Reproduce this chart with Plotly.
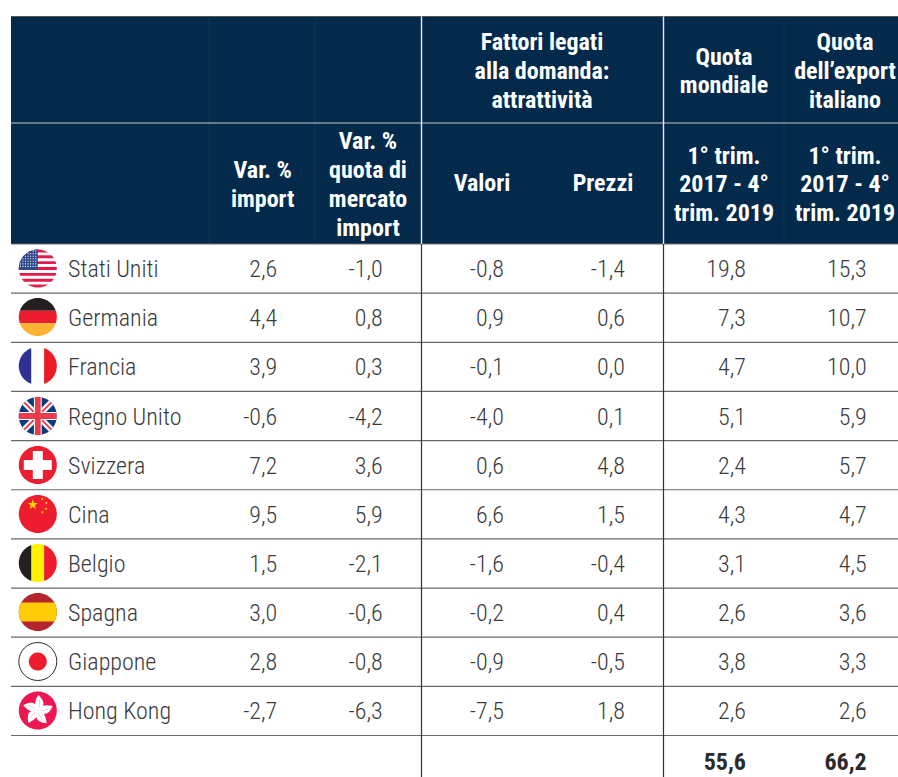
import math
import plotly.graph_objects as go

# ---------- data ----------
countries = ["Stati Uniti", "Germania", "Francia", "Regno Unito", "Svizzera",
             "Cina", "Belgio", "Spagna", "Giappone", "Hong Kong"]
var_import = [2.6, 4.4, 3.9, -0.6, 7.2, 9.5, 1.5, 3.0, 2.8, -2.7]
var_quota = [-1.0, 0.8, 0.3, -4.2, 3.6, 5.9, -2.1, -0.6, -0.8, -6.3]
valori = [-0.8, 0.9, -0.1, -4.0, 0.6, 6.6, -1.6, -0.2, -0.9, -7.5]
prezzi = [-1.4, 0.6, 0.0, 0.1, 4.8, 1.5, -0.4, 0.4, -0.5, 1.8]
quota_mondiale = [19.8, 7.3, 4.7, 5.1, 2.4, 4.3, 3.1, 2.6, 3.8, 2.6]
quota_export = [15.3, 10.7, 10.0, 5.9, 5.7, 4.7, 4.5, 3.6, 3.3, 2.6]
total_mondiale = 55.6
total_export = 66.2

W, H = 898, 777
NAVY = "#042A4B"
TXT = "#3A3A3C"
FONT = "'Roboto Condensed','Liberation Sans Narrow',Roboto,sans-serif"

LEFT, TOP, MID, HEAD_BOT = 11, 16.5, 123, 244
ROW_H = 49.15
DIV = [421.5, 663.5]
FAINT = [209, 315, 784]
row_y = [HEAD_BOT + ROW_H * (i + 0.5) + 2.5 for i in range(10)]
flag_y = [268.5, 317, 366, 416, 465, 514, 563, 612, 661.5, 710.5]

# value column and the x of its right-aligned edge
columns = [(var_import, 277.3), (var_quota, 382.7), (valori, 504), (prezzi, 625),
           (quota_mondiale, 746), (quota_export, 866.7)]


def fmt(v):
    return f"{v:.1f}".replace(".", ",")


fig = go.Figure()
shapes = []


def rect(x0, y0, x1, y1, color):
    shapes.append(dict(type="rect", x0=x0, y0=y0, x1=x1, y1=y1, xref="x", yref="y",
                       fillcolor=color, line_width=0, layer="below"))


def hline(y, color, x0=LEFT, x1=W, w=1.2):
    shapes.append(dict(type="line", x0=x0, x1=x1, y0=y, y1=y, xref="x", yref="y",
                       line=dict(color=color, width=w)))


def vline(x, y0, y1, color, w=1.2):
    shapes.append(dict(type="line", x0=x, x1=x, y0=y0, y1=y1, xref="x", yref="y",
                       line=dict(color=color, width=w)))


# ----- table frame -----
rect(LEFT, TOP, W, HEAD_BOT, NAVY)
hline(TOP, "#555555", w=1)
for x in FAINT:
    vline(x, TOP, HEAD_BOT, "#0E3252", 1)
hline(MID, "#C4C8CC", w=1.2)
hline(HEAD_BOT, "#6E6E6E", w=1.2)
for i in range(1, 11):
    hline(HEAD_BOT + ROW_H * i, "#6A6A6A", w=1.2)
for x in DIV:
    vline(x, TOP, HEAD_BOT, "#E8EAEC", 1.4)
    vline(x, HEAD_BOT, H, "#333333", 1.2)


# ----- flags built from clipped circles -----
def circle_poly(cx, cy, r, n=72):
    return [(cx + r * math.cos(2 * math.pi * k / n), cy + r * math.sin(2 * math.pi * k / n))
            for k in range(n)]


def clip(poly, a, b, c):
    """Keep the part of poly where a*x + b*y <= c."""
    out = []
    for i, p in enumerate(poly):
        q = poly[(i + 1) % len(poly)]
        dp = a * p[0] + b * p[1] - c
        dq = a * q[0] + b * q[1] - c
        if dp <= 0:
            out.append(p)
        if dp * dq < 0:
            t = dp / (dp - dq)
            out.append((p[0] + t * (q[0] - p[0]), p[1] + t * (q[1] - p[1])))
    return out


def path_of(poly):
    return "M" + "L".join(f"{x:.2f},{y:.2f}" for x, y in poly) + "Z"


def fill(poly, color):
    if len(poly) >= 3:
        shapes.append(dict(type="path", path=path_of(poly), xref="x", yref="y",
                           fillcolor=color, line_width=0))


def band(cx, cy, r, x0=None, x1=None, y0=None, y1=None):
    p = circle_poly(cx, cy, r)
    if x0 is not None:
        p = clip(p, -1, 0, -x0)
    if x1 is not None:
        p = clip(p, 1, 0, x1)
    if y0 is not None:
        p = clip(p, 0, -1, -y0)
    if y1 is not None:
        p = clip(p, 0, 1, y1)
    return p


def diag(cx, cy, r, sign, half):
    """Strip along a diagonal through the centre, half-width half."""
    s = math.sqrt(0.5)
    a, b = s * sign, s
    p = circle_poly(cx, cy, r)
    p = clip(p, a, b, a * cx + b * cy + half)
    return clip(p, -a, -b, -(a * cx + b * cy) + half)


def star(cx, cy, R, rot=-90, inner=0.4):
    pts = []
    for k in range(10):
        rr = R if k % 2 == 0 else R * inner
        ang = math.radians(rot + 36 * k)
        pts.append((cx + rr * math.cos(ang), cy + rr * math.sin(ang)))
    return pts


CX, RAD = 37.8, 19


def flag_us(cy):
    fill(circle_poly(CX, cy, RAD), "#FFFFFF")
    h = 2 * RAD / 13
    top = cy - RAD
    for k in range(0, 13, 2):
        fill(band(CX, cy, RAD, y0=top + k * h, y1=top + (k + 1) * h), "#E31B4B")
    fill(band(CX, cy, RAD, x1=CX, y1=top + 7 * h), "#2F4A8C")
    for j in range(7):
        for i in range(7):
            x = CX - RAD + 1.6 + i * 2.55
            y = top + 1.6 + j * 2.55
            if (x - CX) ** 2 + (y - cy) ** 2 < (RAD - 0.8) ** 2 and x < CX - 0.5:
                fill(circle_poly(x, y, 0.62, 6), "#FFFFFF")


def flag_de(cy):
    t = 2 * RAD / 3
    fill(band(CX, cy, RAD, y1=cy - RAD + t), "#231F20")
    fill(band(CX, cy, RAD, y0=cy - RAD + t, y1=cy - RAD + 2 * t), "#ED1C2E")
    fill(band(CX, cy, RAD, y0=cy - RAD + 2 * t), "#FDB334")


def flag_fr(cy):
    t = 2 * RAD / 3
    fill(band(CX, cy, RAD, x1=CX - RAD + t), "#2E3192")
    fill(band(CX, cy, RAD, x0=CX - RAD + t, x1=CX - RAD + 2 * t), "#FFFFFF")
    fill(band(CX, cy, RAD, x0=CX - RAD + 2 * t), "#ED1C24")


def flag_uk(cy):
    fill(circle_poly(CX, cy, RAD), "#0B3B78")
    for sgn in (1, -1):
        fill(diag(CX, cy, RAD, sgn, 3.0), "#FFFFFF")
        fill(diag(CX, cy, RAD, sgn, 1.0), "#E63E4E")
    fill(band(CX, cy, RAD, x0=CX - 3.9, x1=CX + 3.9), "#FFFFFF")
    fill(band(CX, cy, RAD, y0=cy - 3.9, y1=cy + 3.9), "#FFFFFF")
    fill(band(CX, cy, RAD, x0=CX - 2.9, x1=CX + 2.9), "#E63E4E")
    fill(band(CX, cy, RAD, y0=cy - 2.9, y1=cy + 2.9), "#E63E4E")


def flag_ch(cy):
    fill(circle_poly(CX, cy, RAD), "#ED1C2E")
    fill([(CX - 5, cy - 14), (CX + 5, cy - 14), (CX + 5, cy - 5), (CX + 14, cy - 5),
          (CX + 14, cy + 5), (CX + 5, cy + 5), (CX + 5, cy + 14), (CX - 5, cy + 14),
          (CX - 5, cy + 5), (CX - 14, cy + 5), (CX - 14, cy - 5), (CX - 5, cy - 5)], "#FFFFFF")


def flag_cn(cy):
    fill(circle_poly(CX, cy, RAD), "#ED1C2E")
    fill(star(CX - 5, cy - 9.3, 5.4), "#FFD400")
    for dx, dy in [(4.5, -15), (8.5, -11), (8.2, -5.3), (4.5, -1.7)]:
        fill(star(CX + dx, cy + dy, 1.7), "#FFD400")


def flag_be(cy):
    t = 2 * RAD / 3
    fill(band(CX, cy, RAD, x1=CX - RAD + t), "#231F20")
    fill(band(CX, cy, RAD, x0=CX - RAD + t, x1=CX - RAD + 2 * t), "#FFF200")
    fill(band(CX, cy, RAD, x0=CX - RAD + 2 * t), "#ED1C2E")


def flag_es(cy):
    fill(circle_poly(CX, cy, RAD), "#B5252D")
    fill(band(CX, cy, RAD, y0=cy - 9.5, y1=cy + 9.5), "#FFCC05")


def flag_jp(cy):
    shapes.append(dict(type="circle", x0=CX - RAD, x1=CX + RAD, y0=cy - RAD, y1=cy + RAD,
                       xref="x", yref="y", fillcolor="#FFFFFF",
                       line=dict(color="#2A2A2A", width=1)))
    fill(circle_poly(CX, cy, 9), "#ED1C2E")


def flag_hk(cy):
    fill(circle_poly(CX, cy, RAD), "#ED1651")
    for k in range(5):
        ang = math.radians(-90 + 72 * k + 2)
        L = 15.5
        upper, lower = [], []
        for t in range(13):
            s = t / 12
            u = L * s
            w = 4.2 * math.sin(math.pi * s ** 0.85) ** 0.9
            skew = 1.2 * math.sin(math.pi * s)
            upper.append((u, skew + w))
            lower.append((u, skew - w))
        outline = upper + lower[::-1]
        pts = [(CX + u * math.cos(ang) - v * math.sin(ang),
                cy + u * math.sin(ang) + v * math.cos(ang)) for u, v in outline]
        fill(pts, "#FFFFFF")
        seam = [(3, 1.0), (11, 1.4), (11, 1.9), (3, 1.4)]
        fill([(CX + u * math.cos(ang) - v * math.sin(ang),
               cy + u * math.sin(ang) + v * math.cos(ang)) for u, v in seam], "#F4A0B8")


flag_fns = [flag_us, flag_de, flag_fr, flag_uk, flag_ch, flag_cn, flag_be, flag_es, flag_jp, flag_hk]
for fn, cy in zip(flag_fns, flag_y):
    fn(cy)

# ----- body text -----
fig.add_trace(go.Scatter(
    x=[68.0] * 10, y=row_y, text=countries, mode="text", textposition="middle right",
    textfont=dict(family=FONT, size=24, color=TXT, weight=300), hoverinfo="skip", showlegend=False))
for values, right in columns:
    fig.add_trace(go.Scatter(
        x=[right] * len(values), y=row_y, text=[fmt(v) for v in values], mode="text",
        textposition="middle left",
        textfont=dict(family=FONT, size=24, color=TXT, weight=300), hoverinfo="skip", showlegend=False))
fig.add_trace(go.Scatter(
    x=[746, 866.7], y=[763.5, 763.5], text=[fmt(total_mondiale), fmt(total_export)], mode="text",
    textposition="middle left",
    textfont=dict(family=FONT, size=24, color="#2A2A2C", weight=700), hoverinfo="skip", showlegend=False))

# ----- header text -----
headers = [
    (542, [44, 73, 101.5], ["Fattori legati", "alla domanda:", "attrattività"]),
    (724, [59, 87], ["Quota", "mondiale"]),
    (845, [44, 73, 102], ["Quota", "dell’export", "italiano"]),
    (262.7, [172, 201], ["Var. %", "import"]),
    (368, [143, 172, 201, 230], ["Var. %", "quota di", "mercato", "import"]),
    (482, [185], ["Valori"]),
    (603, [185], ["Prezzi"]),
    (724, [158, 186, 215], ["1° trim.", "2017 - 4°", "trim. 2019"]),
    (845, [158, 186, 215], ["1° trim.", "2017 - 4°", "trim. 2019"]),
]
for cx, ys, lines in headers:
    fig.add_trace(go.Scatter(
        x=[cx] * len(lines), y=ys, text=lines, mode="text", textposition="middle center",
        textfont=dict(family=FONT, size=24, color="#FFFFFF", weight=700), hoverinfo="skip", showlegend=False))

fig.update_layout(
    width=W, height=H, margin=dict(l=0, r=0, t=0, b=0), paper_bgcolor="#FFFFFF", plot_bgcolor="#FFFFFF",
    shapes=shapes,
    xaxis=dict(range=[0, W], visible=False, fixedrange=True),
    yaxis=dict(range=[H, 0], visible=False, fixedrange=True),
)
fig.write_html("out.html", config=dict(displayModeBar=False),
               post_script="document.body.style.margin='0';document.body.style.overflow='hidden';"
                           "document.querySelectorAll('svg text').forEach(t=>t.style.fontStretch='condensed');")
